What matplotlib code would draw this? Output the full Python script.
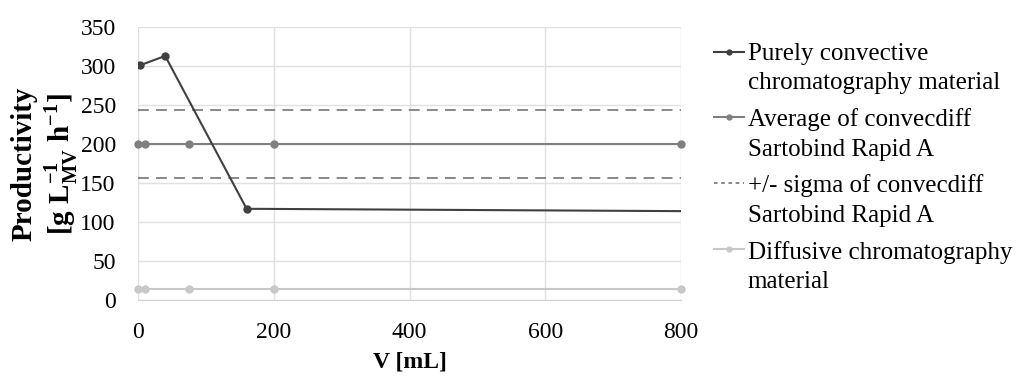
import numpy as np
import matplotlib
matplotlib.use('Agg')
import matplotlib.pyplot as plt
from matplotlib.lines import Line2D

plt.rcParams['font.family'] = ['Liberation Serif', 'DejaVu Serif']
plt.rcParams['mathtext.fontset'] = 'custom'
plt.rcParams['mathtext.rm'] = 'Liberation Serif'
plt.rcParams['mathtext.bf'] = 'Liberation Serif:bold'

# data
v_conv = [3, 40, 160, 800]
p_conv = [301, 313, 117, 114]

v_avg = [0, 10, 75, 200, 800]
p_avg = [200, 200, 200, 200, 200]

v_sigma = [0, 800]
p_sigma_hi = [244, 244]
p_sigma_lo = [156, 156]

v_diff = [0, 10, 75, 200, 800]
p_diff = [14, 14, 14, 14, 14]

labels = ['Purely convective\nchromatography material',
          'Average of convecdiff\nSartobind Rapid A',
          '+/- sigma of convecdiff\nSartobind Rapid A',
          'Diffusive chromatography\nmaterial']

xticks = [0, 200, 400, 600, 800]
yticks = np.arange(0, 351, 50)

fig = plt.figure(figsize=(10.17, 3.76), dpi=100)
ax = fig.add_axes([0.1357, 0.202, 0.534, 0.726])

# last convective point has no marker in the original
ax.plot(v_conv, p_conv, color='#404040', lw=1.5, marker='o', ms=5,
        markevery=[0, 1, 2], zorder=5)
ax.plot(v_avg, p_avg, color='#7f7f7f', lw=1.5, marker='o', ms=5, zorder=4, clip_on=False)
ax.plot(v_sigma, p_sigma_hi, color='#7f7f7f', lw=1.3, ls=(0, (6, 4)), zorder=3)
ax.plot(v_sigma, p_sigma_lo, color='#7f7f7f', lw=1.3, ls=(0, (6, 4)), zorder=3)
ax.plot(v_diff, p_diff, color='#c8c8c8', lw=1.5, marker='o', ms=5, zorder=3, clip_on=False)

ax.set_xlim(0, 800)
ax.set_ylim(0, 350)
ax.set_xticks(xticks)
ax.set_yticks(yticks)
ax.grid(True, color='#e0e0e0', lw=1)
ax.set_axisbelow(True)
for s in ['top', 'right', 'left']:
    ax.spines[s].set_visible(False)
ax.spines['bottom'].set_color('#d0d0d0')
ax.tick_params(length=0, labelsize=17, pad=16)

ax.set_xlabel('V [mL]', fontsize=17, fontweight='bold', labelpad=6)
ax.set_ylabel('Productivity\n[g L$^{\\mathbf{-1}}_{\\mathbf{MV}}$ h$^{\\mathbf{-1}}$]',
              fontsize=21, fontweight='bold', labelpad=0)

# legend keys (smaller markers than the plot)
h1 = Line2D([], [], color='#404040', lw=1.5, marker='o', ms=3.5)
h2 = Line2D([], [], color='#7f7f7f', lw=1.5, marker='o', ms=3.5)
h3 = Line2D([], [], color='#7f7f7f', lw=1.3, ls=(0, (2, 2)))
h4 = Line2D([], [], color='#c8c8c8', lw=1.5, marker='o', ms=3.5)
leg = fig.legend([h1, h2, h3, h4], labels, loc='upper left',
                 bbox_to_anchor=(0.702, 0.885), frameon=False, fontsize=18,
                 handlelength=1.2, handletextpad=0.15, labelspacing=0.56,
                 borderpad=0, borderaxespad=0)
for t in leg.get_texts():
    t.set_linespacing(1.42)
# put handles next to the first line of each label
for col in leg._legend_handle_box.get_children():
    for row in col.get_children():
        row.align = 'top'

fig.savefig('out.png', dpi=100)
